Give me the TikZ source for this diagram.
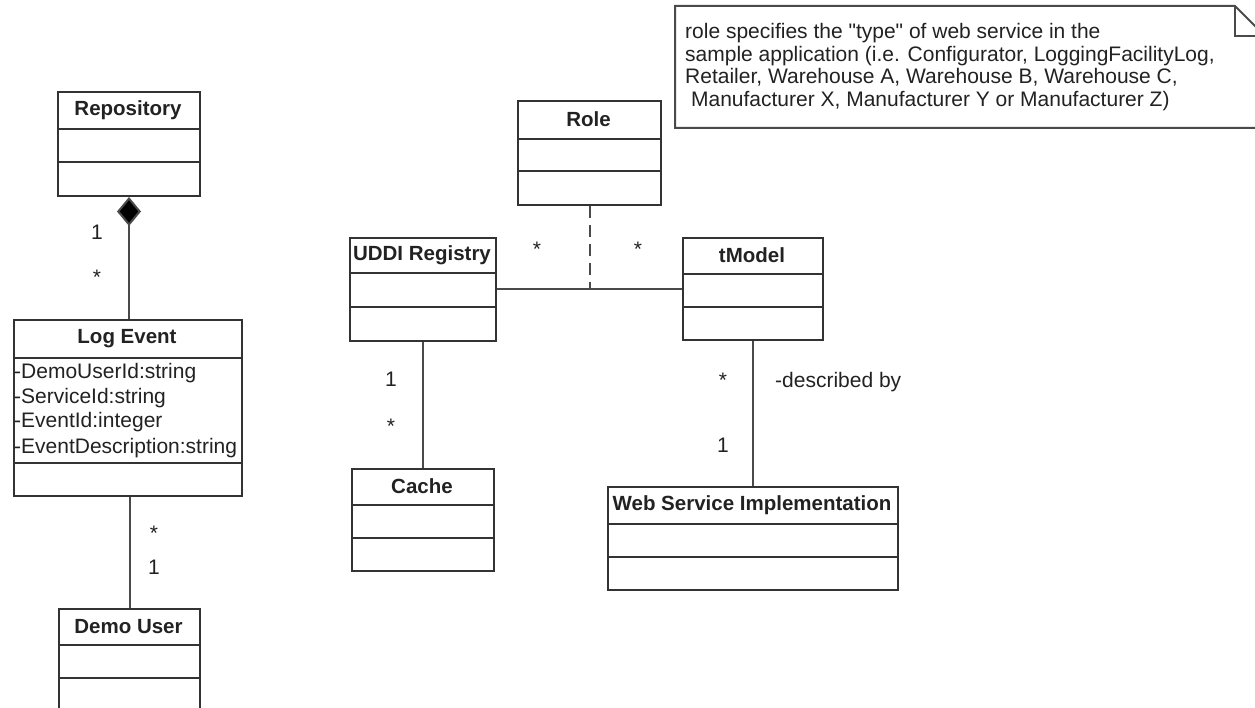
\documentclass[tikz,border=0pt]{standalone}
\usepackage{fontspec}
\setmainfont{Liberation Sans}
\usetikzlibrary{arrows.meta}
\definecolor{boxline}{HTML}{333333}
\definecolor{conline}{HTML}{4A4A4A}
\definecolor{txt}{HTML}{222222}
\tikzset{
  classbox/.style={draw=boxline, line width=2pt, inner sep=0pt, anchor=north west},
  compline/.style={draw=boxline, line width=2pt},
  ctitle/.style={font=\fontsize{20.5}{24}\selectfont\bfseries, text=txt, inner sep=0pt},
  lbl/.style={font=\fontsize{21}{24}\selectfont, text=txt, inner sep=0pt, anchor=base},
  attr/.style={font=\fontsize{21}{24}\selectfont, text=txt, inner sep=0pt, anchor=base west},
  assoc/.style={draw=conline, line width=2pt},
  notebox/.style={draw=conline, line width=2pt, fill=white},
  notetxt/.style={font=\fontsize{21}{22.5}\selectfont, text=txt, inner sep=0pt, align=left, anchor=west},
}
\newcommand\umlclass[8]{%
  \node[classbox, minimum width={(#4-#2)*1pt}, minimum height={(#7-#3)*1pt}] (#1) at (#2,#3) {};
  \node[ctitle] (#1-title) at ({(#2+#4)/2},{(#3+#5)/2}) {#8};
  \draw[compline] (#2,#5) -- (#4,#5);
  \draw[compline] (#2,#6) -- (#4,#6);
}
\begin{document}
\begin{tikzpicture}[x=1pt,y=-1pt]
\clip (0,0) rectangle (1255,708);
\fill[white] (0,0) rectangle (1255,708);

% classes
\umlclass{repo}{57}{91}{199}{129}{162}{195}{Repository}
\umlclass{logev}{13}{319}{241}{358}{463}{495}{Log Event}
\umlclass{demo}{58}{608}{199}{645}{678}{712}{Demo User}
\umlclass{role}{517}{100}{660}{139}{171}{204}{Role}
\umlclass{uddi}{349}{237}{495}{273}{307}{340}{UDDI Registry}
\umlclass{tmodel}{682}{237}{822}{274}{307}{339}{tModel}
\umlclass{cache}{351}{468}{493}{505}{538}{570}{Cache}
\umlclass{wsi}{607}{486}{897}{524}{557}{589}{Web Service Implementation}

% attributes of Log Event
\node[attr] (a1) at (14,378) {-DemoUserId:string};
\node[attr] (a2) at (14,403) {-ServiceId:string};
\node[attr] (a3) at (14,427) {-EventId:integer};
\node[attr] (a4) at (14,453) {-EventDescription:string};

% connectors
\draw[assoc, {Diamond[length=29pt,width=24pt,fill=black]}-] (repo.south) -- (repo.south |- logev.north);
\draw[assoc] (demo.north |- logev.south) -- (demo.north);
\draw[assoc] (uddi.east) -- (uddi.east -| tmodel.west);
\coordinate (assocmid) at (role.south |- uddi.east);
\draw[assoc, dash pattern=on 12pt off 7pt] (role.south) -- (assocmid);
\draw[assoc] (uddi.south) -- (cache.north);
\draw[assoc] (tmodel.south) -- (wsi.north);

% multiplicities
\node[lbl] (m1) at (97,240) {1};
\node[lbl] (m2) at (97,285) {*};
\node[lbl] (m3) at (154,540) {*};
\node[lbl] (m4) at (154,574) {1};
\node[lbl] (m5) at (537,257) {*};
\node[lbl] (m6) at (638,257) {*};
\node[lbl] (m7) at (391,386) {1};
\node[lbl] (m8) at (391,433) {*};
\node[lbl] (m9) at (723,387) {*};
\node[lbl] (m10) at (723,452) {1};
\node[lbl, anchor=base west] (descr) at (775,388) {-described by};

% note
\draw[notebox] (675,6) -- (1235,6) -- (1265,36) -- (1265,128) -- (675,128) -- cycle;
\draw[notebox, fill=none] (1235,6) -- (1235,36) -- (1265,36);
\node[notetxt] (notetext) at (685,67) {role specifies the \textquotedbl type\textquotedbl{} of web service in the\\sample application (i.e. Configurator, LoggingFacilityLog,\\Retailer, Warehouse A, Warehouse B, Warehouse C,\\\hspace*{0.28em}Manufacturer X, Manufacturer Y or Manufacturer Z)};
\end{tikzpicture}
\end{document}
